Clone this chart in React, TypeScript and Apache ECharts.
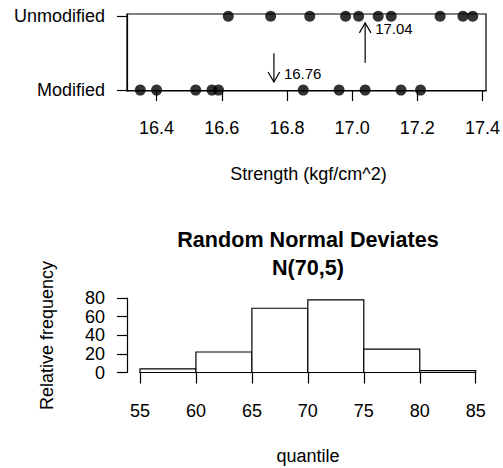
import React, { useEffect, useRef } from "react";
import * as echarts from "echarts";

// Top chart: strength of two mortar formulations
const modified = [16.85, 16.4, 17.21, 16.35, 16.52, 17.04, 16.96, 17.15, 16.59, 16.57];
const unmodified = [16.62, 16.75, 17.37, 17.12, 16.98, 16.87, 17.34, 17.02, 17.08, 17.27];
const groupLabels = ["Modified", "Unmodified"];
const strengthTicks = [16.4, 16.6, 16.8, 17.0, 17.2, 17.4];
const meanValues = [16.76, 17.04];
const meanLabels = ["16.76", "17.04"];
const arrowStart = [0.5, 0.37];
const arrowEnd = [0.11, 0.91];
const meanLabelY = [0.22, 0.83];

// Bottom chart: histogram
const histBreaks = [55, 60, 65, 70, 75, 80, 85];
const histCounts = [4, 22, 69, 78, 25, 2];

const FONT = "'Liberation Sans', Arial, Helvetica, sans-serif";
const BLACK = "#000";
const LW = 1.2;

export default function App() {
  const ref = useRef<HTMLDivElement>(null);
  useEffect(() => {
    if (!ref.current) return;
    const chart = echarts.init(ref.current, null, { renderer: "svg" });
    const all = modified.concat(unmodified);
    const lo = Math.min(...all);
    const hi = Math.max(...all);
    const pad = (hi - lo) * 0.04;
    const lineStyle = { color: BLACK, width: LW };
    const labelBase = { color: BLACK, fontSize: 18, fontFamily: FONT };

    const histData = histCounts.map((c, i) => [histBreaks[i], histBreaks[i + 1], c]);
    const arrowData = meanValues.map((m, i) => [m, arrowStart[i], arrowEnd[i], meanLabelY[i], i]);

    chart.setOption({
      animation: false,
      backgroundColor: "#fff",
      textStyle: { fontFamily: FONT },
      grid: [
        { left: 127, top: 14, width: 363, height: 77, show: true, borderColor: BLACK, borderWidth: LW, backgroundColor: "transparent" },
        { left: 140, top: 298, width: 335.7, height: 74.5 },
      ],
      xAxis: [
        {
          gridIndex: 0,
          type: "value",
          min: lo - pad,
          max: hi + pad,
          axisLine: { show: true, lineStyle },
          axisTick: { show: true, customValues: strengthTicks, length: 11, lineStyle },
          axisLabel: { ...labelBase, customValues: strengthTicks, formatter: (v: number) => v.toFixed(1), margin: 28 },
          splitLine: { show: false },
        },
        {
          gridIndex: 1,
          type: "value",
          min: 55,
          max: 85,
          interval: 5,
          offset: 3,
          axisLine: { show: true, lineStyle },
          axisTick: { show: true, length: 11, lineStyle },
          axisLabel: { ...labelBase, margin: 26 },
          splitLine: { show: false },
        },
      ],
      yAxis: [
        {
          gridIndex: 0,
          type: "value",
          min: -0.012,
          max: 1.03,
          axisLine: { show: true, lineStyle },
          axisTick: { show: true, customValues: [0, 1], length: 10, lineStyle },
          axisLabel: { ...labelBase, customValues: [0, 1], formatter: (v: number) => groupLabels[Math.round(v)], margin: 22 },
          splitLine: { show: false },
        },
        {
          gridIndex: 1,
          type: "value",
          min: 0,
          max: 80,
          interval: 20,
          offset: 13,
          axisLine: { show: true, lineStyle },
          axisTick: { show: true, length: 10, lineStyle },
          axisLabel: { ...labelBase, margin: 22 },
          splitLine: { show: false },
        },
      ],
      series: [
        {
          type: "scatter",
          xAxisIndex: 0,
          yAxisIndex: 0,
          symbol: "circle",
          symbolSize: 11,
          itemStyle: { color: BLACK },
          clip: false,
          data: modified.map((v) => [v, 0]).concat(unmodified.map((v) => [v, 1])),
        },
        {
          type: "custom",
          xAxisIndex: 0,
          yAxisIndex: 0,
          clip: false,
          encode: { x: 0, y: [1, 2] },
          data: arrowData,
          renderItem: (params: any, api: any) => {
            const x = api.value(0);
            const p0 = api.coord([x, api.value(1)]);
            const p1 = api.coord([x, api.value(2)]);
            const pl = api.coord([x, api.value(3)]);
            const dir = p1[1] > p0[1] ? 1 : -1;
            const hl = 10;
            const hw = 5.8;
            const idx = api.value(4);
            return {
              type: "group",
              children: [
                { type: "line", shape: { x1: p0[0], y1: p0[1], x2: p1[0], y2: p1[1] }, style: { stroke: BLACK, lineWidth: LW } },
                {
                  type: "polyline",
                  shape: { points: [[p1[0] - hw, p1[1] - dir * hl], [p1[0], p1[1]], [p1[0] + hw, p1[1] - dir * hl]] },
                  style: { stroke: BLACK, lineWidth: LW, fill: "none" },
                },
                {
                  type: "text",
                  x: pl[0] + 10,
                  y: pl[1],
                  style: { text: meanLabels[idx], fill: BLACK, fontSize: 15, fontFamily: FONT, align: "left", verticalAlign: "middle" },
                },
              ],
            };
          },
        },
        {
          type: "custom",
          xAxisIndex: 1,
          yAxisIndex: 1,
          clip: false,
          encode: { x: [0, 1], y: 2 },
          data: histData,
          renderItem: (params: any, api: any) => {
            const a = api.coord([api.value(0), api.value(2)]);
            const b = api.coord([api.value(1), 0]);
            return {
              type: "rect",
              shape: { x: a[0], y: a[1], width: b[0] - a[0], height: b[1] - a[1] },
              style: { fill: "#fff", stroke: BLACK, lineWidth: LW },
            };
          },
        },
      ],
      graphic: [
        { type: "text", x: 308.5, y: 174, style: { text: "Strength (kgf/cm^2)", fill: BLACK, fontSize: 18, fontFamily: FONT, align: "center", verticalAlign: "middle" } },
        { type: "text", x: 308, y: 239, style: { text: "Random Normal Deviates", fill: BLACK, fontSize: 21.6, fontWeight: "bold", fontFamily: FONT, align: "center", verticalAlign: "middle" } },
        { type: "text", x: 308, y: 267, style: { text: "N(70,5)", fill: BLACK, fontSize: 21.6, fontWeight: "bold", fontFamily: FONT, align: "center", verticalAlign: "middle" } },
        { type: "text", x: 308, y: 456, style: { text: "quantile", fill: BLACK, fontSize: 18, fontFamily: FONT, align: "center", verticalAlign: "middle" } },
        { type: "text", x: 47, y: 335.5, rotation: Math.PI / 2, style: { text: "Relative frequency", fill: BLACK, fontSize: 18, fontFamily: FONT, align: "center", verticalAlign: "middle" } },
      ],
    });
    return () => chart.dispose();
  }, []);
  return <div ref={ref} style={{ position: "fixed", left: 0, top: 0, width: 503, height: 468, background: "#fff" }} />;
}
